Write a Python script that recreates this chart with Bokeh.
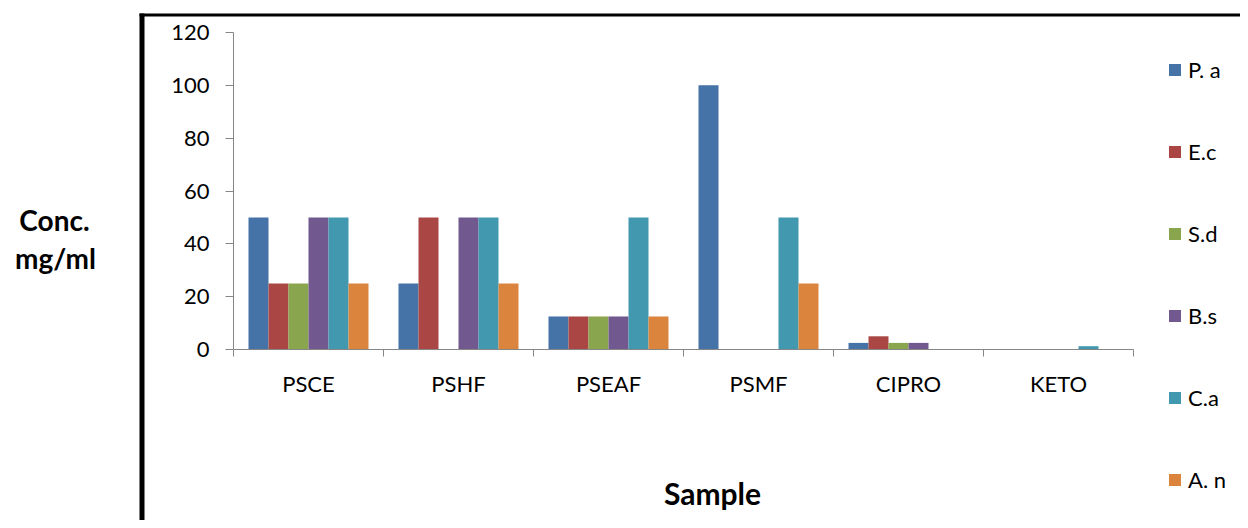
from bokeh.plotting import figure
from bokeh.models import (ColumnDataSource, FixedTicker, Label, BoxAnnotation, Legend, LegendItem)
from bokeh.transform import dodge
from bokeh.embed import file_html
from bokeh.resources import INLINE

# ---- data ----
categories = ["PSCE", "PSHF", "PSEAF", "PSMF", "CIPRO", "KETO"]
series_names = ["P. a", "E.c", "S.d", "B.s", "C.a", "A. n"]
P_a = [50, 25, 12.5, 100, 2.5, 0]
E_c = [25, 50, 12.5, 0, 5, 0]
S_d = [25, 0, 12.5, 0, 2.5, 0]
B_s = [50, 50, 12.5, 0, 2.5, 0]
C_a = [50, 50, 50, 50, 0, 1.25]
A_n = [25, 25, 12.5, 25, 0, 0]
y_ticks = [0, 20, 40, 60, 80, 100, 120]

colors = ["#4572A7", "#AA4643", "#89A54E", "#71588F", "#4198AF", "#DB843D"]
FONT = "Lato"

centers = [i + 0.5 for i in range(len(categories))]
data = dict(x=centers, P_a=P_a, E_c=E_c, S_d=S_d, B_s=B_s, C_a=C_a, A_n=A_n)
source = ColumnDataSource(data)
cols = ["P_a", "E_c", "S_d", "B_s", "C_a", "A_n"]

# ---- layout geometry (canvas px); plot area of the chart inside a full-canvas frame ----
W, H = 1240, 520
PL, PR, PT, PB = 233, 1133, 32, 349
x_lo, x_hi = 0, len(categories)
y_lo, y_hi = 0, 120
px_per_x = (PR - PL) / (x_hi - x_lo)
px_per_y = (PB - PT) / (y_hi - y_lo)
def dx(cx):
    return x_lo + (cx - PL) / px_per_x
def dy(cy):
    return y_lo + (PB - cy) / px_per_y

p = figure(width=W, height=H, x_range=(dx(0), dx(W)), y_range=(dy(H), dy(0)),
           output_backend="svg", toolbar_location=None,
           min_border=0, min_border_left=0, min_border_right=0,
           min_border_top=0, min_border_bottom=0)
p.outline_line_color = None
p.xgrid.visible = False
p.ygrid.visible = False
p.background_fill_color = "white"
p.border_fill_color = "white"

bw = 20 / px_per_x
items = []
for k, (c, name, col) in enumerate(zip(cols, series_names, colors)):
    off = (k - 2.5) * bw
    r = p.vbar(x=dodge("x", off), top=c, width=bw, bottom=0, source=source,
               fill_color=col, line_color=None)
    items.append(LegendItem(label=name, renderers=[r]))

AX = "#868686"
# x axis
xa = p.xaxis[0]
xa.fixed_location = 0
xa.bounds = (x_lo, x_hi)
xa.ticker = FixedTicker(ticks=centers, minor_ticks=list(range(len(categories) + 1)))
xa.major_label_overrides = {c: lab for c, lab in zip(centers, categories)}
xa.major_tick_out = 0
xa.major_tick_in = 0
xa.minor_tick_out = 7
xa.minor_tick_in = 0
xa.minor_tick_line_color = AX
xa.axis_line_color = AX
xa.major_label_text_font = FONT
xa.major_label_text_font_size = "22px"
xa.major_label_text_color = "black"
xa.major_label_standoff = 13

# y axis
ya = p.yaxis[0]
ya.fixed_location = 0
ya.bounds = (y_lo, y_hi)
ya.ticker = FixedTicker(ticks=y_ticks, minor_ticks=[])
ya.major_tick_out = 8
ya.major_tick_in = 0
ya.major_tick_line_color = AX
ya.minor_tick_line_color = None
ya.axis_line_color = AX
ya.major_label_text_font = FONT
ya.major_label_text_font_size = "22px"
ya.major_label_text_color = "black"
ya.major_label_standoff = 16

# legend
legend = Legend(items=items, location=(1167, H - 493), orientation="vertical",
                glyph_width=15, glyph_height=15, label_standoff=6,
                label_text_font=FONT, label_text_font_size="22px",
                label_text_color="black",
                padding=0, margin=0, spacing=55,
                border_line_color=None, background_fill_alpha=0)
p.add_layout(legend, "center")

# axis titles
p.add_layout(Label(x=dx(712), y=dy(492), text="Sample", text_font=FONT,
                   text_font_size="30px", text_font_style="bold", text_color="black",
                   text_align="center", text_baseline="middle"))
p.add_layout(Label(x=dx(54), y=dy(219), text="Conc.", text_font=FONT,
                   text_font_size="28px", text_font_style="bold", text_color="black",
                   text_align="center", text_baseline="middle"))
p.add_layout(Label(x=dx(55), y=dy(257), text="mg/ml", text_font=FONT,
                   text_font_size="28px", text_font_style="bold", text_color="black",
                   text_align="center", text_baseline="middle"))

# chart frame border (black, left and top visible)
p.add_layout(BoxAnnotation(left=dx(139), right=dx(144), top=dy(13), bottom=dy(H + 10),
                           fill_color="black", fill_alpha=1, line_color=None))
p.add_layout(BoxAnnotation(left=dx(139), right=dx(W + 10), top=dy(13), bottom=dy(16),
                           fill_color="black", fill_alpha=1, line_color=None))

open("out.html", "w").write(file_html(p, INLINE))
